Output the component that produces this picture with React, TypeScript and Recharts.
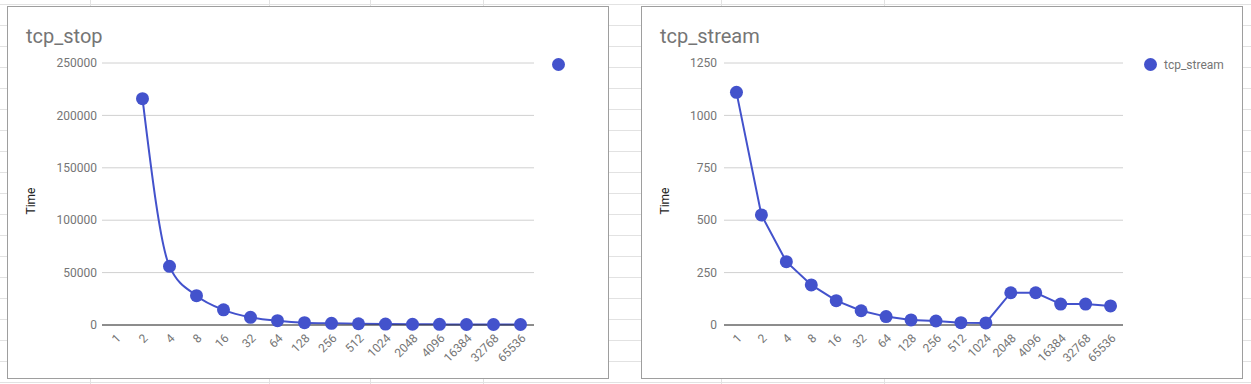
import { LineChart, Line, XAxis, YAxis, CartesianGrid, Legend, Label } from "recharts";

const sizes = ["1", "2", "4", "8", "16", "32", "64", "128", "256", "512", "1024", "2048", "4096", "16384", "32768", "65536"];
const tcpStop = [null, 216000, 56000, 28000, 14500, 7300, 4100, 2200, 1600, 1200, 900, 700, 600, 500, 500, 500];
const tcpStream = [1110, 525, 302, 191, 116, 68, 40, 24, 19, 11, 10, 154, 154, 100, 100, 91];
const stopTicks = [0, 50000, 100000, 150000, 200000, 250000];
const streamTicks = [0, 250, 500, 750, 1000, 1250];

const BLUE = "#4352cc";
const GREY = "#757575";
const FONT = "Roboto, sans-serif";

const SizeTick = (props: any) => {
  const { x, y, payload } = props;
  return (
    <g transform={`translate(${x + 6},${y + 14}) rotate(-45)`}>
      <text x={0} y={0} textAnchor="end" fill={GREY} fontSize={12} fontFamily={FONT}>
        {payload.value}
      </text>
    </g>
  );
};

const TimeLabel = (props: any) => {
  const vb = props.viewBox || { x: 0, y: 0, height: 0 };
  const cx = vb.x + 23;
  const cy = vb.y + vb.height / 2 + 7;
  return (
    <text
      x={cx}
      y={cy}
      transform={`rotate(-90, ${cx}, ${cy})`}
      textAnchor="middle"
      dominantBaseline="central"
      fill="#222"
      fontSize={12}
      fontFamily={FONT}
    >
      Time
    </text>
  );
};

type PanelProps = {
  left: number;
  title: string;
  values: (number | null)[];
  ticks: number[];
  legendText: string;
  curve: "monotone" | "linear";
  axisWidth: number;
  rightGap: number;
  tickGap: number;
  legendLeft: number;
};

function Panel({ left, title, values, ticks, legendText, curve, axisWidth, rightGap, tickGap, legendLeft }: PanelProps) {
  const data = sizes.map((s, i) => ({ size: s, time: values[i] }));
  // half a category band on each side, like the sheets chart
  const half = (600 - axisWidth - rightGap) / sizes.length / 2;
  return (
    <div
      style={{
        position: "absolute",
        left,
        top: 6,
        width: 600,
        height: 371,
        border: "1px solid #9e9e9e",
        background: "#fff",
      }}
    >
      <div
        style={{
          position: "absolute",
          left: 18,
          top: 17,
          fontSize: 20,
          lineHeight: "24px",
          color: GREY,
          fontFamily: FONT,
        }}
      >
        {title}
      </div>
      <LineChart
        width={600}
        height={371}
        data={data}
        margin={{ top: 56, right: rightGap, bottom: 0, left: 0 }}
      >
        <CartesianGrid vertical={false} stroke="#d0d0d0" />
        <XAxis
          dataKey="size"
          interval={0}
          height={53}
          padding={{ left: half, right: half }}
          tick={<SizeTick />}
          tickLine={false}
          tickSize={0}
          tickMargin={0}
          axisLine={{ stroke: "#333" }}
        />
        <YAxis
          width={axisWidth}
          domain={[ticks[0], ticks[ticks.length - 1]]}
          ticks={ticks}
          axisLine={false}
          tickLine={false}
          tickSize={0}
          tickMargin={tickGap}
          tick={{ fill: GREY, fontSize: 12, fontFamily: FONT }}
        >
          <Label content={<TimeLabel />} />
        </YAxis>
        {/* centre/middle so the legend takes no room from the plot; placed by wrapperStyle */}
        <Legend
          layout="vertical"
          verticalAlign="middle"
          align="center"
          iconType="circle"
          iconSize={13}
          formatter={() => (
            <span style={{ color: GREY, fontSize: 12, fontFamily: FONT, marginLeft: 3 }}>{legendText}</span>
          )}
          wrapperStyle={{ top: 47, left: legendLeft, right: "auto", width: "auto" }}
        />
        <Line
          type={curve}
          dataKey="time"
          name={title}
          stroke={BLUE}
          strokeWidth={2}
          dot={{ r: 6.5, fill: BLUE, stroke: BLUE, strokeWidth: 0 }}
          activeDot={false}
          isAnimationActive={false}
        />
      </LineChart>
    </div>
  );
}

export default function App() {
  const rows = Array.from({ length: 19 }, (_, k) => 4 + 21 * k);
  const cols = [90, 269, 370, 483, 721, 884];
  return (
    <div
      style={{
        position: "absolute",
        left: 0,
        top: 0,
        width: 1251,
        height: 384,
        overflow: "hidden",
        background: "#fff",
        fontFamily: FONT,
      }}
    >
      {rows.map((y) => (
        <div key={"r" + y} style={{ position: "absolute", left: 0, top: y, width: 1251, height: 1, background: "#e2e2e2" }} />
      ))}
      {cols.map((x) => (
        <div key={"c" + x} style={{ position: "absolute", left: x, top: 0, width: 1, height: 384, background: "#e2e2e2" }} />
      ))}
      <Panel
        left={7}
        title="tcp_stop"
        values={tcpStop}
        ticks={stopTicks}
        legendText=""
        curve="monotone"
        axisWidth={94}
        rightGap={74}
        tickGap={5}
        legendLeft={544}
      />
      <Panel
        left={641}
        title="tcp_stream"
        values={tcpStream}
        ticks={streamTicks}
        legendText="tcp_stream"
        curve="linear"
        axisWidth={82}
        rightGap={119}
        tickGap={7}
        legendLeft={502}
      />
    </div>
  );
}
